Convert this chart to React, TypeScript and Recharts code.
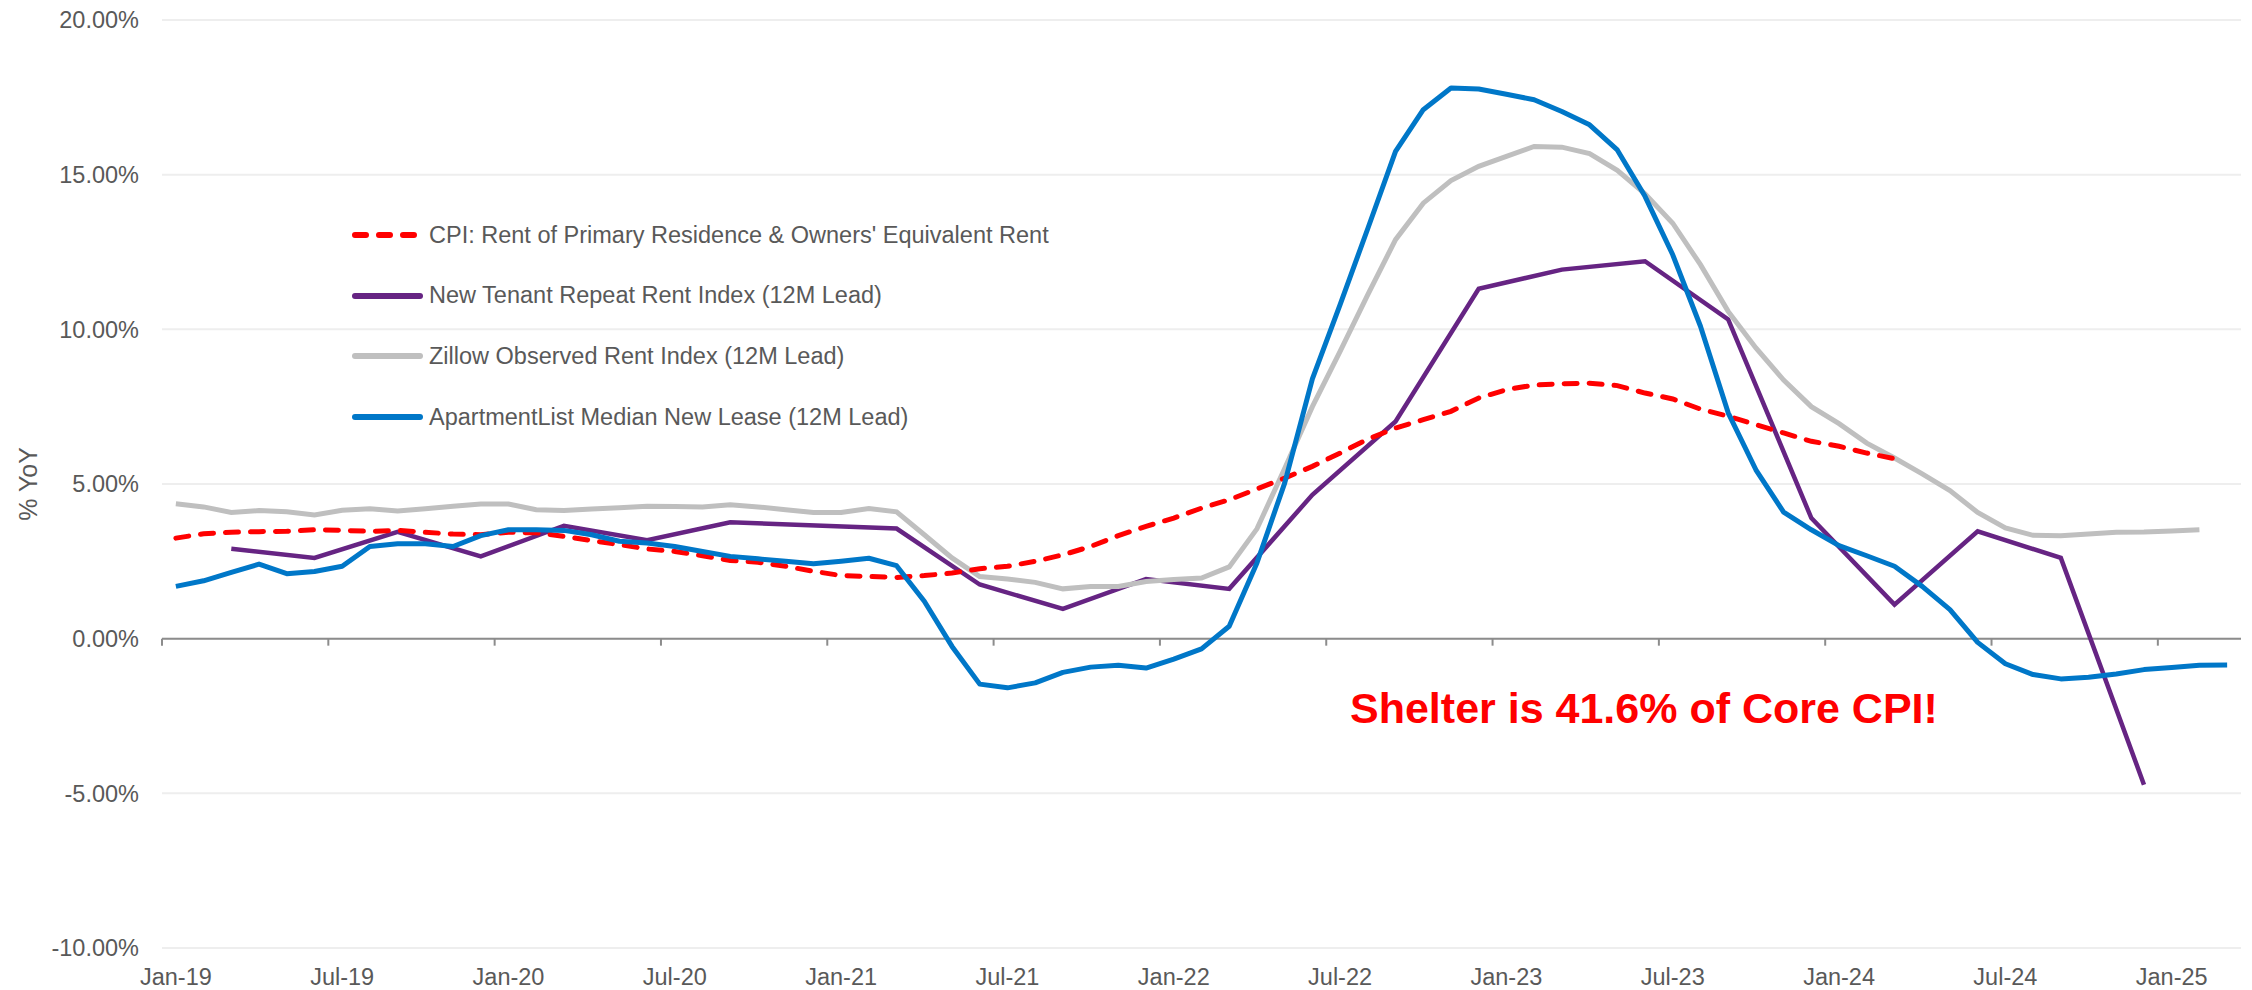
import React from 'react'
import {
  LineChart,
  Line,
  XAxis,
  YAxis,
  CartesianGrid,
  ReferenceLine,
  Label,
} from 'recharts'

// months on the category axis
const MONTHS = [
  'Jan-19', 'Feb-19', 'Mar-19', 'Apr-19', 'May-19', 'Jun-19', 'Jul-19', 'Aug-19', 'Sep-19', 'Oct-19', 'Nov-19', 'Dec-19',
  'Jan-20', 'Feb-20', 'Mar-20', 'Apr-20', 'May-20', 'Jun-20', 'Jul-20', 'Aug-20', 'Sep-20', 'Oct-20', 'Nov-20', 'Dec-20',
  'Jan-21', 'Feb-21', 'Mar-21', 'Apr-21', 'May-21', 'Jun-21', 'Jul-21', 'Aug-21', 'Sep-21', 'Oct-21', 'Nov-21', 'Dec-21',
  'Jan-22', 'Feb-22', 'Mar-22', 'Apr-22', 'May-22', 'Jun-22', 'Jul-22', 'Aug-22', 'Sep-22', 'Oct-22', 'Nov-22', 'Dec-22',
  'Jan-23', 'Feb-23', 'Mar-23', 'Apr-23', 'May-23', 'Jun-23', 'Jul-23', 'Aug-23', 'Sep-23', 'Oct-23', 'Nov-23', 'Dec-23',
  'Jan-24', 'Feb-24', 'Mar-24', 'Apr-24', 'May-24', 'Jun-24', 'Jul-24', 'Aug-24', 'Sep-24', 'Oct-24', 'Nov-24', 'Dec-24',
  'Jan-25', 'Feb-25', 'Mar-25',
]

const X_TICKS = [
  'Jan-19', 'Jul-19', 'Jan-20', 'Jul-20', 'Jan-21', 'Jul-21', 'Jan-22',
  'Jul-22', 'Jan-23', 'Jul-23', 'Jan-24', 'Jul-24', 'Jan-25',
]

const Y_TICKS = [-10, -5, 0, 5, 10, 15, 20]

// CPI: Rent of Primary Residence & OER (% YoY)
const CPI_RENT = [
  3.25, 3.39, 3.44, 3.46, 3.47, 3.52, 3.5, 3.47, 3.5, 3.44, 3.38, 3.36,
  3.44, 3.42, 3.31, 3.17, 3.04, 2.9, 2.82, 2.68, 2.53, 2.47, 2.34, 2.18,
  2.04, 2.01, 1.98, 2.04, 2.12, 2.26, 2.34, 2.5, 2.71, 2.98, 3.33, 3.63,
  3.9, 4.22, 4.49, 4.84, 5.19, 5.57, 6.0, 6.45, 6.81, 7.08, 7.35, 7.78,
  8.05, 8.2, 8.24, 8.26, 8.18, 7.94, 7.75, 7.42, 7.19, 6.92, 6.65, 6.38,
  6.22, 6.0, 5.82, null, null, null, null, null, null, null, null, null,
  null, null, null,
]

// New Tenant Repeat Rent Index, quarterly (12M lead)
const NEW_TENANT = [
  null, null, 2.91, null, null, 2.61, null, null, 3.45, null, null, 2.66,
  null, null, 3.65, null, null, 3.18, null, null, 3.76, null, null, null,
  null, null, 3.56, null, null, 1.75, null, null, 0.96, null, null, 1.93,
  null, null, 1.61, null, null, 4.65, null, null, 7.02, null, null, 11.31,
  null, null, 11.93, null, null, 12.2, null, null, 10.32, null, null, 3.9,
  null, null, 1.1, null, null, 3.47, null, null, 2.61, null, null, -4.72,
  null, null, null,
]

// Zillow Observed Rent Index (12M lead)
const ZILLOW = [
  4.36, 4.26, 4.08, 4.14, 4.1, 4.0, 4.15, 4.2, 4.13, 4.2, 4.28, 4.35,
  4.35, 4.17, 4.14, 4.19, 4.23, 4.28, 4.27, 4.26, 4.33, 4.26, 4.17, 4.08,
  4.08, 4.21, 4.1, 3.36, 2.61, 2.01, 1.93, 1.82, 1.61, 1.69, 1.69, 1.85,
  1.91, 1.96, 2.32, 3.55, 5.5, 7.5, 9.29, 11.12, 12.9, 14.08, 14.81, 15.27,
  15.59, 15.91, 15.89, 15.68, 15.14, 14.38, 13.43, 12.09, 10.58, 9.4, 8.36, 7.5,
  6.95, 6.32, 5.84, 5.33, 4.79, 4.08, 3.58, 3.34, 3.33, 3.38, 3.44, 3.45,
  3.48, 3.52, null,
]

// ApartmentList median new lease (12M lead)
const APT_LIST = [
  1.69, 1.87, 2.14, 2.41, 2.1, 2.17, 2.34, 2.98, 3.07, 3.07, 2.98, 3.33,
  3.52, 3.52, 3.5, 3.36, 3.15, 3.09, 2.98, 2.82, 2.66, 2.58, 2.5, 2.42,
  2.5, 2.6, 2.36, 1.21, -0.25, -1.47, -1.59, -1.43, -1.09, -0.92, -0.86, -0.95,
  -0.66, -0.33, 0.4, 2.45, 5.03, 8.4, 10.8, 13.26, 15.75, 17.1, 17.8, 17.77,
  17.6, 17.42, 17.04, 16.61, 15.8, 14.3, 12.41, 10.1, 7.3, 5.46, 4.09, 3.52,
  3.01, 2.68, 2.34, 1.69, 0.94, -0.12, -0.81, -1.16, -1.3, -1.25, -1.14, -1.0,
  -0.93, -0.86, -0.85,
]

const SERIES = [
  { key: 'cpi', name: "CPI: Rent of Primary Residence & Owners' Equivalent Rent", color: '#ff0000', dashed: true },
  { key: 'ntrr', name: 'New Tenant Repeat Rent Index (12M Lead)', color: '#662483', dashed: false },
  { key: 'zillow', name: 'Zillow Observed Rent Index (12M Lead)', color: '#bfbfbf', dashed: false },
  { key: 'apt', name: 'ApartmentList Median New Lease (12M Lead)', color: '#0077c8', dashed: false },
]

const data = MONTHS.map((month, i) => ({
  month,
  cpi: CPI_RENT[i],
  ntrr: NEW_TENANT[i],
  zillow: ZILLOW[i],
  apt: APT_LIST[i],
}))

const W = 2252
const H = 990
const Y_AXIS_W = 162
const RIGHT = 11
const HALF_BAND = (W - RIGHT - Y_AXIS_W) / MONTHS.length / 2
const TEXT = '#595959'
const FONT = '"Liberation Sans", Arial, sans-serif'

const XTick = ({ x, y, payload }: any) => (
  <text x={x} y={y} dy={29} textAnchor="middle" fill={TEXT} fontSize={23.5}>
    {payload.value}
  </text>
)

// small tick marks hanging off the zero line, on the band edges
const ZeroTick = (p: any) => (
  <line
    x1={p.x1 - HALF_BAND}
    x2={p.x1 - HALF_BAND}
    y1={p.y1}
    y2={p.y1 + 7}
    stroke="#8c8c8c"
    strokeWidth={2}
  />
)

function ChartLegend() {
  return (
    <div style={{ position: 'absolute', left: 349, top: 205, fontFamily: FONT, pointerEvents: 'none' }}>
      {SERIES.map((s) => (
        <div key={s.key} style={{ display: 'flex', alignItems: 'center', height: 60.6 }}>
          <svg width={77} height={10}>
            <line
              x1={6}
              x2={s.dashed ? 65 : 71}
              y1={5}
              y2={5}
              stroke={s.color}
              strokeWidth={6}
              strokeLinecap="round"
              strokeDasharray={s.dashed ? '11 13' : undefined}
            />
          </svg>
          <span style={{ marginLeft: 3, fontSize: 23.5, color: TEXT, whiteSpace: 'nowrap' }}>
            {s.name}
          </span>
        </div>
      ))}
    </div>
  )
}

export default function App() {
  return (
    <div style={{ position: 'absolute', left: 0, top: 0, width: W, height: H, background: '#fff', fontFamily: FONT }}>
      <LineChart width={W} height={H} data={data} margin={{ top: 20, right: RIGHT, left: 0, bottom: 0 }}>
        <CartesianGrid vertical={false} stroke="#eeeeee" strokeWidth={2} />
        <XAxis
          dataKey="month"
          ticks={X_TICKS}
          interval={0}
          height={42}
          padding={{ left: HALF_BAND, right: HALF_BAND }}
          axisLine={false}
          tickLine={false}
          tick={<XTick />}
        />
        <YAxis
          width={Y_AXIS_W}
          domain={[-10, 20]}
          ticks={Y_TICKS}
          axisLine={false}
          tickLine={false}
          tickMargin={17}
          tick={{ fontSize: 23.5, fill: TEXT }}
          tickFormatter={(v: number) => `${v.toFixed(2)}%`}
        >
          <Label
            content={({ viewBox }: any) => {
              const cx = viewBox.x + 28
              const cy = viewBox.y + viewBox.height / 2
              return (
                <text
                  x={cx}
                  y={cy}
                  transform={`rotate(-90 ${cx} ${cy})`}
                  textAnchor="middle"
                  dominantBaseline="central"
                  fontSize={25}
                  fill={TEXT}
                >
                  % YoY
                </text>
              )
            }}
          />
        </YAxis>
        <ReferenceLine y={0} stroke="#8c8c8c" strokeWidth={2} />
        {X_TICKS.map((m) => (
          <ReferenceLine
            key={m}
            segment={[
              { x: m, y: 0 },
              { x: m, y: 0 },
            ]}
            shape={ZeroTick}
          />
        ))}
        <Line
          type="linear"
          dataKey="ntrr"
          stroke="#662483"
          strokeWidth={4.5}
          dot={false}
          connectNulls
          isAnimationActive={false}
        />
        <Line
          type="linear"
          dataKey="zillow"
          stroke="#bfbfbf"
          strokeWidth={5}
          dot={false}
          isAnimationActive={false}
        />
        <Line
          type="linear"
          dataKey="cpi"
          stroke="#ff0000"
          strokeWidth={5}
          strokeDasharray="13 12"
          strokeLinecap="round"
          dot={false}
          isAnimationActive={false}
        />
        <Line
          type="linear"
          dataKey="apt"
          stroke="#0077c8"
          strokeWidth={5}
          strokeLinejoin="round"
          dot={false}
          isAnimationActive={false}
        />
      </LineChart>
      <ChartLegend />
      <svg
        width={W}
        height={H}
        style={{ position: 'absolute', left: 0, top: 0, pointerEvents: 'none' }}
      >
        <text x={1350} y={723} fontSize={43} fontWeight="bold" fill="#ff0000" fontFamily={FONT}>
          Shelter is 41.6% of Core CPI!
        </text>
      </svg>
    </div>
  )
}
